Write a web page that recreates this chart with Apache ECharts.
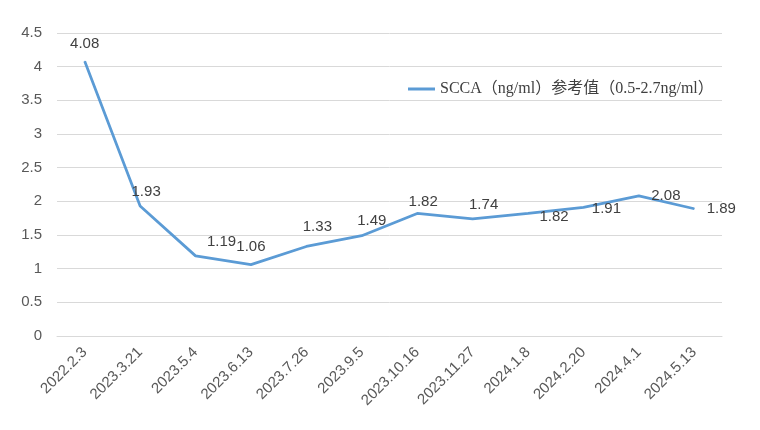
<!DOCTYPE html>
<html><head><meta charset="utf-8">
<script src="https://cdn.jsdelivr.net/npm/echarts@6/dist/echarts.min.js"></script>
<style>html,body{margin:0;padding:0;background:#fff}#c{width:760px;height:430px}</style>
</head><body><div id="c"></div>
<script>
var categories = ['2022.2.3','2023.3.21','2023.5.4','2023.6.13','2023.7.26','2023.9.5','2023.10.16','2023.11.27','2024.1.8','2024.2.20','2024.4.1','2024.5.13'];
var values = [4.08,1.93,1.19,1.06,1.33,1.49,1.82,1.74,1.82,1.91,2.08,1.89];
var seriesName = 'SCCA（ng/ml）参考值（0.5-2.7ng/ml）';
var yTicks = {min:0, max:4.5, interval:0.5};
// label placement (styling only): [dx, dy] relative to 'top' position
var labelOffsets = [[0,-4],[6,-1],[26,-1],[0,-5],[11,-7],[10,-2],[6,1],[11,-1],[26,16],[23,14],[27,13],[27,13]];

var data = values.map(function(v,i){
  return {value:v, label:{offset:labelOffsets[i]}};
});
var chart = echarts.init(document.getElementById('c'));
chart.setOption({
  animation:false,
  grid:{left:57,right:38,top:33,bottom:94},
  legend:{
    show:true, left:403, top:76, itemWidth:27, itemHeight:3, itemGap:0,
    icon:'rect',
    textStyle:{fontFamily:'"Liberation Serif","Noto Sans CJK SC",serif',fontSize:16,color:'#404040',padding:[0,0,0,0]},
    data:[seriesName]
  },
  xAxis:{
    type:'category', data:categories, boundaryGap:true,
    axisLine:{show:true,lineStyle:{color:'#d9d9d9'}},
    axisTick:{show:false},
    axisLabel:{rotate:45,interval:0,color:'#595959',fontSize:15,fontFamily:'Arial, "Liberation Sans", sans-serif',margin:14}
  },
  yAxis:{
    type:'value', min:yTicks.min, max:yTicks.max, interval:yTicks.interval,
    axisLine:{show:false}, axisTick:{show:false},
    splitLine:{lineStyle:{color:'#d9d9d9'}},
    axisLabel:{color:'#595959',fontSize:15,fontFamily:'Arial, "Liberation Sans", sans-serif',margin:15}
  },
  series:[{
    name:seriesName, type:'line', data:data,
    symbol:'circle', showSymbol:true, symbolSize:1, lineStyle:{color:'#5b9bd5',width:2.75}, itemStyle:{color:'#5b9bd5'},
    label:{show:true,position:'top',distance:5,color:'#404040',fontSize:15,fontFamily:'Arial, "Liberation Sans", sans-serif'}
  }]
});
</script></body></html>
